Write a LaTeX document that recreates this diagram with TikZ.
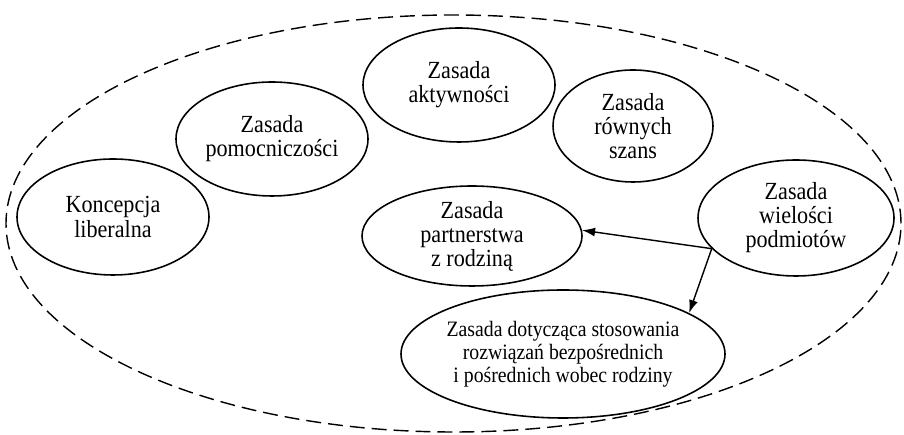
\documentclass[tikz,border=0pt]{standalone}
\usepackage{fontspec}
\setmainfont{Liberation Serif}[FakeStretch=0.9]
\usetikzlibrary{positioning,arrows.meta,shapes.geometric}

\begin{document}
\begin{tikzpicture}[
    zasada/.style={draw, ellipse, line width=0.9pt, inner sep=-3pt, align=center, font=\fontsize{14}{13.7}\selectfont},
    ramka/.style={draw, ellipse, line width=0.8pt, dash pattern=on 8.5pt off 4pt},
    strzalka/.style={-{Latex[length=2.6mm, width=1.8mm]}, line width=0.8pt}
]
\useasboundingbox (0,0) rectangle (18.08,8.7);

% --- Obramowanie przerywane ---
\node[ramka, minimum width=17.9cm, minimum height=8.34cm] (ramka) at (9.07,4.23) {};

% --- Gorny luk zasad ---
\node[zasada, minimum width=3.84cm, minimum height=2.32cm] (lib) at (2.26,4.36) {Koncepcja\\liberalna};
\node[zasada, minimum width=3.84cm, minimum height=2.28cm] (pom) at (5.44,5.92) {Zasada\\pomocniczości};
\node[zasada, minimum width=3.84cm, minimum height=2.28cm] (akt) at (9.18,7.0) {Zasada\\aktywności};
\node[zasada, minimum width=3.2cm, minimum height=2.24cm] (row) at (12.66,6.18) {Zasada\\równych\\szans};
\node[zasada, minimum width=3.92cm, minimum height=2.32cm] (wiel) at (15.92,4.34) {Zasada\\wielości\\podmiotów};

% --- Zasady wynikajace ---
\node[zasada, minimum width=4.4cm, minimum height=2.0cm] (part) at (9.44,3.98) {Zasada\\partnerstwa\\z rodziną};
\node[zasada, minimum width=6.48cm, minimum height=2.56cm, inner xsep=-0.3cm,
      font=\fontsize{12.5}{13.1}\selectfont] (dot) at (11.26,1.62)
      {Zasada dotycząca stosowania\\rozwiązań bezpośrednich\\i pośrednich wobec rodziny};

% --- Powiazania ---
\draw[strzalka] (wiel.200) -- (part.3);
\draw[strzalka] (wiel.200) -- (dot.18);

\end{tikzpicture}
\end{document}
